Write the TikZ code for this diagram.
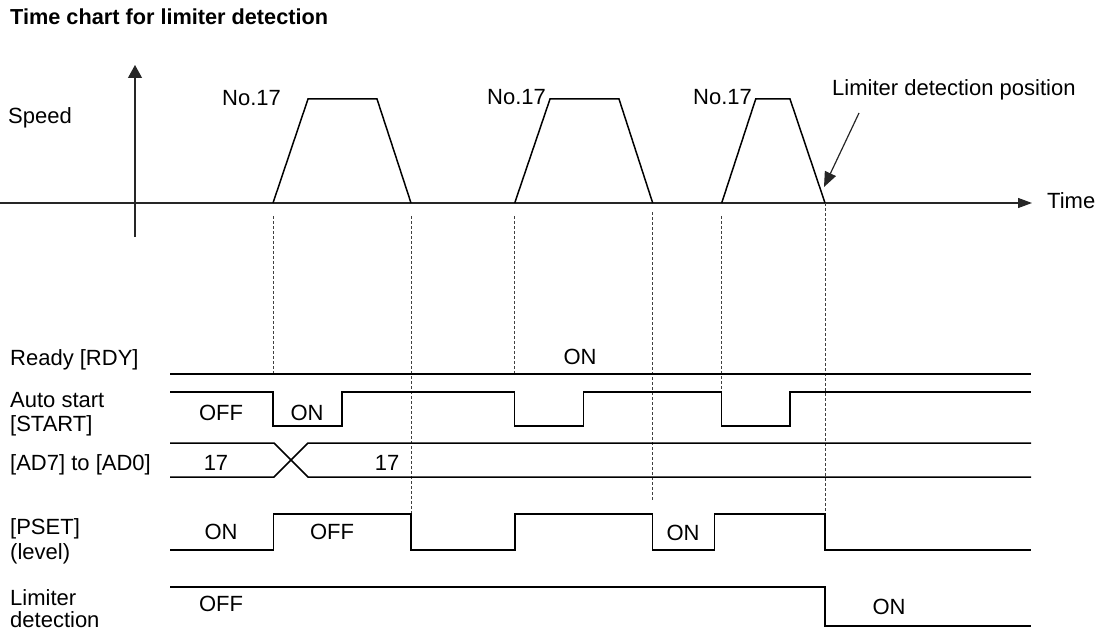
\documentclass[tikz,border=0pt]{standalone}
\usepackage{fontspec}
\setmainfont{Liberation Sans}
\usetikzlibrary{arrows.meta}
\tikzset{
  lbl/.style={inner sep=0pt, anchor=base west, font=\fontsize{22}{24}\selectfont},
  val/.style={inner sep=0pt, anchor=base, font=\fontsize{22}{24}\selectfont},
  ttl/.style={inner sep=0pt, anchor=base west, font=\fontsize{21.7}{24}\selectfont\bfseries},
  sig/.style={line width=1.5pt, black},
  axis/.style={line width=1.2pt, black!85},
  guide/.style={line width=0.9pt, black!75, dash pattern=on 3pt off 2pt},
  spd/.style={line width=1.5pt, black, line join=miter}
}
\begin{document}
\begin{tikzpicture}[x=1pt,y=-1pt]
\path[use as bounding box] (0,0) rectangle (1102,631);
% title
\node[ttl] (title) at (10,25) {Time chart for limiter detection};
% axes
\draw[axis, -{Triangle[length=13pt,width=14pt]}] (135,237) -- (135,65);
\draw[axis, -{Triangle[length=14pt,width=10pt]}] (0,203) -- (1032,203);
\node[lbl] (speed) at (8,124) {Speed};
\node[lbl] (time) at (1047,208) {Time};
% speed profiles
\draw[spd] (273,203) -- (308,99) -- (377,99) -- (411,203);
\draw[spd] (514.7,203) -- (550,99) -- (619,99) -- (652.7,203);
\draw[spd] (721.7,203) -- (755.7,99) -- (790,99) -- (825,203);
\node[lbl] (no1) at (222,106) {No.17};
\node[lbl] (no2) at (487,105) {No.17};
\node[lbl] (no3) at (693,105) {No.17};
\node[lbl] (ldp) at (832,96) {Limiter detection position};
\coordinate (ldpfrom) at (859,113);
\coordinate (ldpto) at (824,187);
\draw[axis, -{Triangle[length=15pt,width=12pt]}] (ldpfrom) -- (ldpto);
% guide lines
\draw[guide] (273,216) -- (273,374);
\draw[guide] (411,216) -- (411,514);
\draw[guide] (514.7,216) -- (514.7,374);
\draw[guide] (652.7,212) -- (652.7,500);
\draw[guide] (721.7,216) -- (721.7,392);
\draw[guide] (825,203) -- (825,514);
% signal labels
\node[lbl] (rdy) at (10,365) {Ready [RDY]};
\node[lbl] (st1) at (10,407) {Auto start};
\node[lbl] (st2) at (10,431) {[START]};
\node[lbl] (ad) at (10,470) {[AD7] to [AD0]};
\node[lbl] (ps1) at (10,534) {[PSET]};
\node[lbl] (ps2) at (10,559) {(level)};
\node[lbl] (lm1) at (10,605) {Limiter};
\node[lbl] (lm2) at (10,627) {detection};
% signals
\draw[sig] (170,374) -- (1031,374);
\draw[sig] (170,392) -- (273,392) -- (273,426) -- (342,426) -- (342,392) -- (514.7,392) -- (514.7,426) -- (583.7,426) -- (583.7,392) -- (721.7,392) -- (721.7,426) -- (790,426) -- (790,392) -- (1031,392);
\draw[sig] (170,443) -- (274,443) -- (308,477) -- (1031,477);
\draw[sig] (170,477) -- (274,477) -- (308,443) -- (1031,443);
\draw[sig] (170,550) -- (273.6,550) -- (273.6,514) -- (411,514) -- (411,550) -- (515,550) -- (515,514) -- (652.7,514) -- (652.7,550) -- (714.5,550) -- (714.5,514) -- (825,514) -- (825,550) -- (1031,550);
\draw[sig] (170,587) -- (825,587) -- (825,626) -- (1031,626);
% values
\node[val] (v1) at (580,364) {ON};
\node[val] (v2) at (221,420) {OFF};
\node[val] (v3) at (307,420) {ON};
\node[val] (v4) at (216,470) {17};
\node[val] (v5) at (387,470) {17};
\node[val] (v6) at (221,539) {ON};
\node[val] (v7) at (332,539) {OFF};
\node[val] (v8) at (683,540) {ON};
\node[val] (v9) at (221,611) {OFF};
\node[val] (v10) at (889,614) {ON};
\end{tikzpicture}
\end{document}
